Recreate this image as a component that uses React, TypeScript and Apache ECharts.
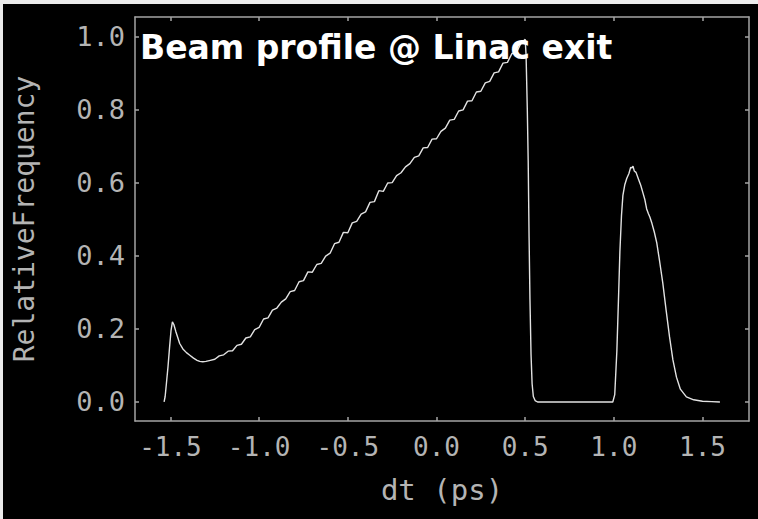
import React, { useEffect, useRef } from "react";
import * as echarts from "echarts";

// Leading spike (dt in ps, relative frequency)
const headT = [-1.536, -1.53, -1.523, -1.514, -1.505, -1.497, -1.489, -1.481, -1.47, -1.458, -1.448, -1.43, -1.41, -1.391, -1.37, -1.35, -1.335, -1.318];
const headF = [0.0, 0.015, 0.05, 0.096, 0.15, 0.195, 0.219, 0.212, 0.193, 0.175, 0.16, 0.145, 0.135, 0.128, 0.12, 0.114, 0.111, 0.11];

// Main ramp (noisy)
const rampT = [
  -1.3, -1.275, -1.25, -1.225, -1.2, -1.175, -1.15, -1.125, -1.1, -1.075, -1.05, -1.025,
  -1.0, -0.975, -0.95, -0.925, -0.9, -0.875, -0.85, -0.825, -0.8, -0.775, -0.75, -0.725,
  -0.7, -0.675, -0.65, -0.625, -0.6, -0.575, -0.55, -0.525, -0.5, -0.475, -0.45, -0.425,
  -0.4, -0.375, -0.35, -0.325, -0.3, -0.275, -0.25, -0.225, -0.2, -0.175, -0.15, -0.125,
  -0.1, -0.075, -0.05, -0.025, 0.0, 0.025, 0.05, 0.075, 0.1, 0.125, 0.15, 0.175,
  0.2, 0.225, 0.25, 0.275, 0.3, 0.325, 0.35, 0.375, 0.4, 0.425, 0.45, 0.475, 0.5,
];
const rampF = [
  0.111, 0.114, 0.117, 0.126, 0.129, 0.139, 0.14, 0.155, 0.158, 0.175, 0.178, 0.198,
  0.204, 0.227, 0.23, 0.251, 0.257, 0.273, 0.282, 0.302, 0.305, 0.329, 0.332, 0.356,
  0.355, 0.376, 0.379, 0.399, 0.407, 0.433, 0.437, 0.464, 0.463, 0.49, 0.494, 0.514,
  0.52, 0.546, 0.548, 0.578, 0.576, 0.599, 0.6, 0.619, 0.627, 0.643, 0.652, 0.669,
  0.673, 0.695, 0.696, 0.719, 0.72, 0.74, 0.749, 0.771, 0.773, 0.796, 0.799, 0.823,
  0.824, 0.848, 0.85, 0.873, 0.877, 0.9, 0.903, 0.927, 0.929, 0.953, 0.955, 0.98, 0.992,
];

// Sharp drop and empty gap
const dropT = [0.505, 0.512, 0.517, 0.522, 0.527, 0.533, 0.539, 0.546, 0.556, 0.57, 0.994];
const dropF = [0.95, 0.8, 0.66, 0.45, 0.28, 0.13, 0.05, 0.015, 0.004, 0.0, 0.0];

// Second peak
const peakT = [
  1.005, 1.017, 1.026, 1.034, 1.043, 1.051, 1.062, 1.073, 1.085, 1.095, 1.101, 1.108,
  1.115, 1.125, 1.14, 1.152, 1.164, 1.175, 1.185, 1.195, 1.203, 1.215, 1.228, 1.242,
  1.258, 1.276, 1.295, 1.314, 1.333, 1.353, 1.375, 1.409, 1.45, 1.5, 1.55, 1.598,
];
const peakF = [
  0.02, 0.14, 0.28, 0.41, 0.51, 0.565, 0.595, 0.612, 0.625, 0.642, 0.64, 0.645,
  0.632, 0.628, 0.608, 0.592, 0.572, 0.553, 0.528, 0.515, 0.506, 0.488, 0.465, 0.435,
  0.385, 0.325, 0.25, 0.178, 0.115, 0.068, 0.035, 0.014, 0.006, 0.002, 0.001, 0.0,
];

const xTicks = [-1.5, -1.0, -0.5, 0.0, 0.5, 1.0, 1.5];
const yTicks = [0.0, 0.2, 0.4, 0.6, 0.8, 1.0];
const titleText = "Beam profile @ Linac exit";
const xName = "dt (ps)";
const yName = "RelativeFrequency";

export default function App() {
  const ref = useRef<HTMLDivElement>(null);
  useEffect(() => {
    const chart = echarts.init(ref.current!, null, { renderer: "svg" });
    const t = [...headT, ...rampT, ...dropT, ...peakT];
    const f = [...headF, ...rampF, ...dropF, ...peakF];
    const data = t.map((x, i) => [x, f[i]]);
    const axisColor = "#a4a4a4";
    const textColor = "#b4b4b4";
    const font = "'DejaVu Sans Mono', monospace";
    const fmt = (v: number) => v.toFixed(1);
    const xMin = -1.7;
    const xMax = 1.762;
    const yMin = -0.052;
    const yMax = 1.053;
    const line = { show: true, onZero: false, lineStyle: { color: axisColor, width: 1.5 } };
    const tick = (vals: number[]) => ({
      show: true,
      inside: true,
      length: 4,
      customValues: vals,
      lineStyle: { color: axisColor, width: 1.5 },
    });
    chart.setOption({
      animation: false,
      backgroundColor: "#000000",
      grid: { left: 135, right: 9, top: 17, bottom: 98 },
      title: {
        text: titleText,
        left: 140,
        top: 31,
        padding: 0,
        textStyle: { color: "#ffffff", fontSize: 33, fontWeight: "bold", fontFamily: "'DejaVu Sans', sans-serif" },
      },
      graphic: [
        { type: "rect", shape: { x: 0, y: 0, width: 758, height: 4 }, style: { fill: "#ececec" }, z: 100 },
        { type: "rect", shape: { x: 0, y: 0, width: 3, height: 519 }, style: { fill: "#ececec" }, z: 100 },
      ],
      xAxis: [
        {
          type: "value",
          position: "bottom",
          min: xMin,
          max: xMax,
          axisLine: line,
          axisTick: tick(xTicks),
          splitLine: { show: false },
          axisLabel: {
            customValues: xTicks,
            formatter: fmt,
            margin: 13,
            color: textColor,
            fontSize: 26,
            fontFamily: font,
          },
          name: xName,
          nameLocation: "middle",
          nameGap: 54,
          nameTextStyle: { color: textColor, fontSize: 29, fontFamily: font },
        },
        {
          type: "value",
          position: "top",
          min: xMin,
          max: xMax,
          axisLine: line,
          axisTick: tick(xTicks),
          splitLine: { show: false },
          axisLabel: { show: false },
        },
      ],
      yAxis: [
        {
          type: "value",
          position: "left",
          min: yMin,
          max: yMax,
          axisLine: line,
          axisTick: tick(yTicks),
          splitLine: { show: false },
          axisLabel: {
            customValues: yTicks,
            formatter: fmt,
            margin: 10,
            padding: [0, 0, 12, 0],
            color: textColor,
            fontSize: 27,
            fontFamily: font,
          },
          name: yName,
          nameLocation: "middle",
          nameGap: 97,
          nameTextStyle: { color: textColor, fontSize: 28, fontFamily: font },
        },
        {
          type: "value",
          position: "right",
          min: yMin,
          max: yMax,
          axisLine: line,
          axisTick: tick(yTicks),
          splitLine: { show: false },
          axisLabel: { show: false },
        },
      ],
      series: [
        {
          type: "line",
          xAxisIndex: 0,
          yAxisIndex: 0,
          data,
          showSymbol: false,
          symbol: "none",
          lineStyle: { color: "#e2e2e2", width: 1.4 },
          z: 2,
        },
      ],
    });
    return () => chart.dispose();
  }, []);
  return <div ref={ref} style={{ position: "fixed", left: 0, top: 0, width: 758, height: 519 }} />;
}
